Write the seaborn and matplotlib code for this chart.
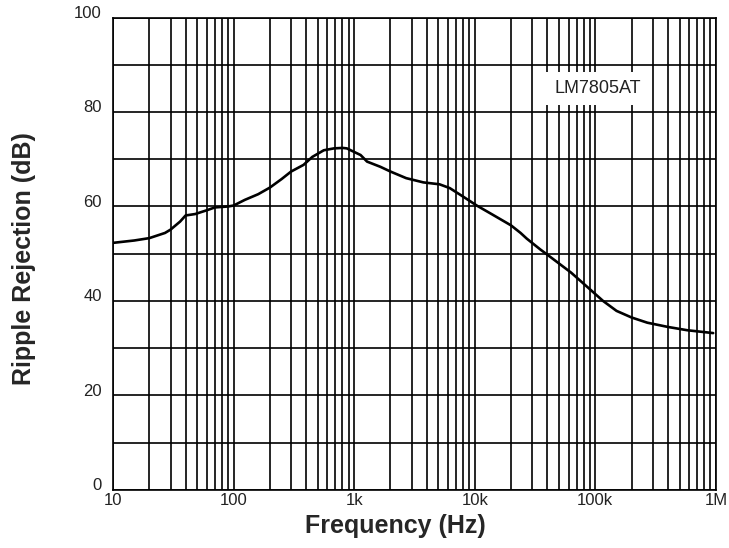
import numpy as np
import pandas as pd
import matplotlib
matplotlib.use("Agg")
import matplotlib.pyplot as plt
import matplotlib.ticker as mticker
from matplotlib.transforms import ScaledTranslation
import seaborn as sns

# values
freq_hz = [10, 15, 20, 27, 30, 36, 40, 48, 60, 70, 90, 100, 124, 160, 200, 250,
           300, 380, 450, 560, 680, 800, 870, 990, 1130, 1280, 1650, 2000, 2700,
           3750, 5100, 6200, 8000, 10400, 14000, 20000, 24000, 27000, 35000,
           40000, 63000, 90000, 116000, 150000, 200000, 270000, 400000, 580000,
           950000]
rejection_db = [52.3, 52.8, 53.3, 54.4, 55.1, 56.8, 58.1, 58.4, 59.2, 59.8, 60.0,
                60.2, 61.4, 62.6, 64.0, 65.8, 67.4, 68.8, 70.5, 71.9, 72.3, 72.4,
                72.3, 71.6, 70.9, 69.5, 68.4, 67.4, 66.0, 65.1, 64.7, 63.9, 62.1,
                60.2, 58.3, 56.0, 54.4, 53.2, 50.9, 49.8, 46.0, 42.5, 40.0, 37.9,
                36.5, 35.4, 34.5, 33.8, 33.2]

x_ticks = [10, 100, 1e3, 1e4, 1e5, 1e6]
x_tick_labels = ["10", "100", "1k", "10k", "100k", "1M"]
y_ticks = [0, 20, 40, 60, 80, 100]

df = pd.DataFrame({"Frequency": freq_hz, "Rejection": rejection_db})

sns.set_style("white")
plt.rcParams["font.family"] = ["Liberation Sans", "DejaVu Sans"]

fig = plt.figure(figsize=(7.29, 5.48), dpi=100)
ax = fig.add_axes([0.155, 0.106, 0.827, 0.862])

sns.lineplot(data=df, x="Frequency", y="Rejection", ax=ax, color="black",
             linewidth=1.9, estimator=None, zorder=3)

ax.set_xscale("log")
ax.set_xlim(10, 1e6)
ax.set_ylim(0, 100)

ax.set_xticks(x_ticks)
ax.set_xticklabels(x_tick_labels)
ax.xaxis.set_minor_locator(mticker.LogLocator(base=10, subs=np.arange(2, 10)))
ax.xaxis.set_minor_formatter(mticker.NullFormatter())
ax.set_yticks(y_ticks)
ax.set_yticks(range(10, 100, 20), minor=True)

ax.grid(True, which="both", color="black", linewidth=1.2)
ax.tick_params(which="both", length=0, labelsize=12, labelcolor="#222222")
ax.tick_params(axis="x", pad=2)
ax.tick_params(axis="y", pad=8)
for lab in ax.get_yticklabels():
    lab.set_transform(lab.get_transform() + ScaledTranslation(0, 4 / 72, fig.dpi_scale_trans))

for s in ax.spines.values():
    s.set_color("black")
    s.set_linewidth(1.2)

ax.set_xlabel("Frequency (Hz)", fontsize=18, fontweight="bold")
ax.xaxis.set_label_coords(0.468, -0.052, transform=ax.transAxes)
ax.xaxis.label.set_va("top")
ax.set_ylabel("Ripple Rejection (dB)", fontsize=18, fontweight="bold")
ax.yaxis.set_label_coords(-0.128, 0.49)

ax.text(1.05e5, 85, "LM7805AT", fontsize=13, color="#222222", ha="center", va="center",
        zorder=4, bbox=dict(facecolor="white", edgecolor="none", pad=6))

fig.savefig("out.png", dpi=100)
